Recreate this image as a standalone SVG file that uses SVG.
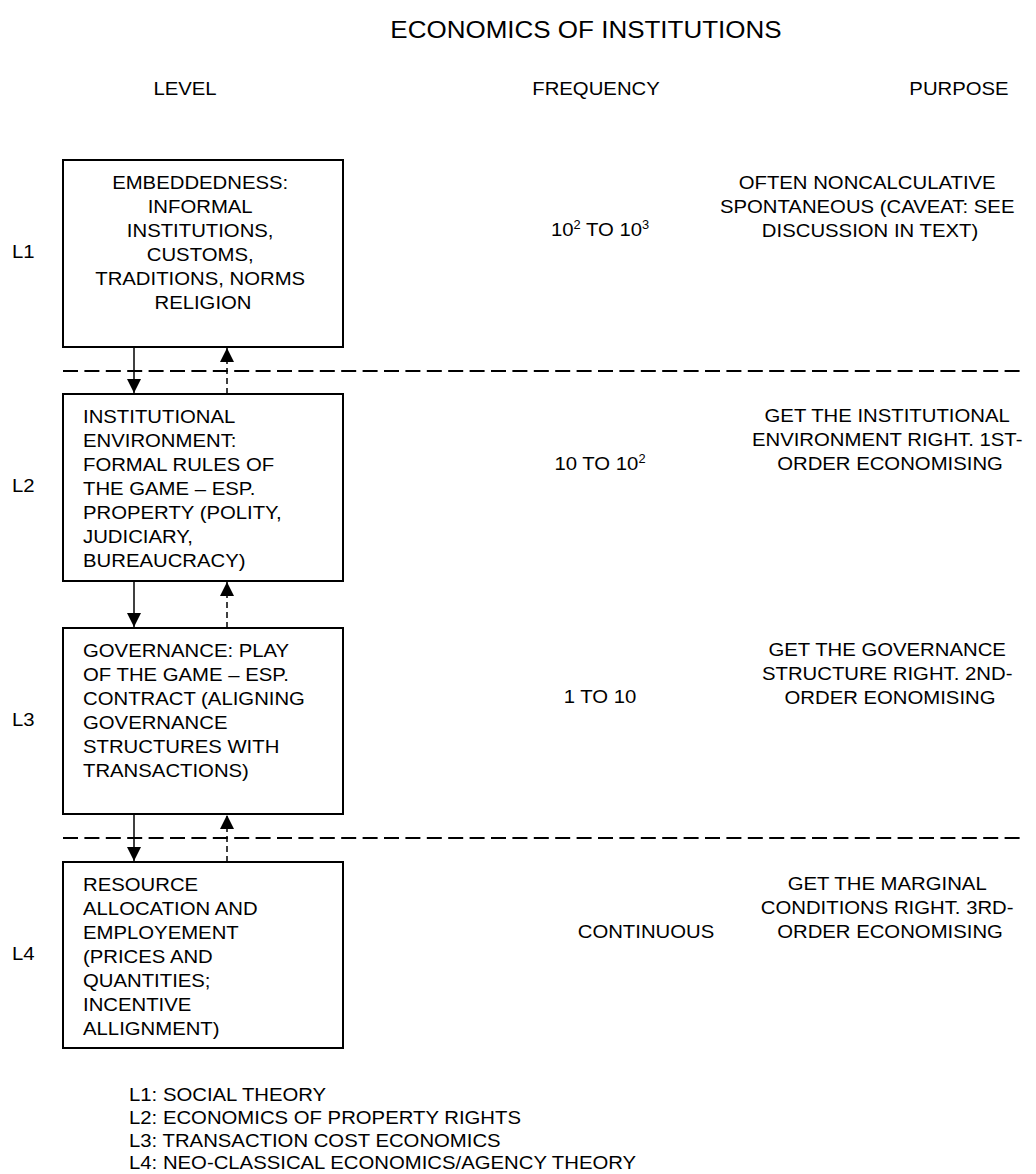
<svg xmlns="http://www.w3.org/2000/svg" width="1036" height="1174" viewBox="0 0 1036 1174">
  <style>
    .t { font-family: "Liberation Sans", Arial, Helvetica, sans-serif; font-size: 19px; fill: #000; }
    .title { font-size: 24.3px; }
    .mid { text-anchor: middle; }
    .sup { font-size: 12px; }
    .box { fill: #fff; stroke: #000; stroke-width: 2; }
    .sep { fill: none; stroke: #000; stroke-width: 2; stroke-dasharray: 15 6.4; }
    .down { fill: none; stroke: #000; stroke-width: 1.5; }
    .up { fill: none; stroke: #000; stroke-width: 1.5; stroke-dasharray: 6 4; }
  </style>
  <defs>
    <marker id="head" markerUnits="userSpaceOnUse" markerWidth="15" markerHeight="14" refX="14" refY="7" orient="auto">
      <path d="M0,0 L14,7 L0,14 z" fill="#000"/>
    </marker>
  </defs>

  <rect width="1036" height="1174" fill="#fff"/>

  <!-- headings -->
  <g id="headings">
    <text class="t title mid" transform="translate(586 38) scale(1.07 1)">ECONOMICS OF INSTITUTIONS</text>
    <text class="t mid" transform="translate(185 95) scale(1.07 1)">LEVEL</text>
    <text class="t mid" transform="translate(596 95) scale(1.07 1)">FREQUENCY</text>
    <text class="t mid" transform="translate(959 95) scale(1.07 1)">PURPOSE</text>
  </g>

  <!-- level separators -->
  <g id="separators">
    <line class="sep" x1="63" y1="371" x2="1020" y2="371"/>
    <line class="sep" x1="63" y1="838" x2="1020" y2="838"/>
  </g>

  <!-- connectors between levels -->
  <g id="connectors">
    <line class="down" x1="134" y1="347" x2="134" y2="393" marker-end="url(#head)"/>
    <line class="up" x1="227" y1="394" x2="227" y2="348" marker-end="url(#head)"/>
    <line class="down" x1="134" y1="581" x2="134" y2="627" marker-end="url(#head)"/>
    <line class="up" x1="227" y1="628" x2="227" y2="582" marker-end="url(#head)"/>
    <line class="down" x1="134" y1="814" x2="134" y2="861" marker-end="url(#head)"/>
    <line class="up" x1="227" y1="862" x2="227" y2="815" marker-end="url(#head)"/>
  </g>

  <!-- level 1 -->
  <g id="level1">
    <text class="t" transform="translate(12 258) scale(1.07 1)">L1</text>
    <rect class="box" x="63" y="160" width="280" height="187"/>
    <text class="t mid" transform="translate(203 189) scale(1.07 1)">
      <tspan x="0" dy="0">EMBEDDEDNESS:</tspan>
      <tspan x="0" dy="24">INFORMAL</tspan>
      <tspan x="0" dy="24">INSTITUTIONS,</tspan>
      <tspan x="0" dy="24">CUSTOMS,</tspan>
      <tspan x="0" dy="24">TRADITIONS, NORMS</tspan>
      <tspan x="0" dy="24">RELIGION</tspan>
    </text>
    <text class="t mid" transform="translate(600 236) scale(1.07 1)">10<tspan class="sup" dy="-7">2</tspan><tspan dy="7"> TO 10</tspan><tspan class="sup" dy="-7">3</tspan></text>
    <text class="t mid" transform="translate(870 189) scale(1.07 1)">
      <tspan x="0" dy="0">OFTEN NONCALCULATIVE</tspan>
      <tspan x="0" dy="24">SPONTANEOUS (CAVEAT: SEE</tspan>
      <tspan x="0" dy="24">DISCUSSION IN TEXT)</tspan>
    </text>
  </g>

  <!-- level 2 -->
  <g id="level2">
    <text class="t" transform="translate(12 492) scale(1.07 1)">L2</text>
    <rect class="box" x="63" y="394" width="280" height="187"/>
    <text class="t" transform="translate(83 423) scale(1.07 1)">
      <tspan x="0" dy="0">INSTITUTIONAL</tspan>
      <tspan x="0" dy="24">ENVIRONMENT:</tspan>
      <tspan x="0" dy="24">FORMAL RULES OF</tspan>
      <tspan x="0" dy="24">THE GAME – ESP.</tspan>
      <tspan x="0" dy="24">PROPERTY (POLITY,</tspan>
      <tspan x="0" dy="24">JUDICIARY,</tspan>
      <tspan x="0" dy="24">BUREAUCRACY)</tspan>
    </text>
    <text class="t mid" transform="translate(600 470) scale(1.07 1)">10 TO 10<tspan class="sup" dy="-7">2</tspan></text>
    <text class="t mid" transform="translate(890 422) scale(1.07 1)">
      <tspan x="0" dy="0">GET THE INSTITUTIONAL</tspan>
      <tspan x="0" dy="24">ENVIRONMENT RIGHT. 1ST-</tspan>
      <tspan x="0" dy="24">ORDER ECONOMISING</tspan>
    </text>
  </g>

  <!-- level 3 -->
  <g id="level3">
    <text class="t" transform="translate(12 726) scale(1.07 1)">L3</text>
    <rect class="box" x="63" y="628" width="280" height="186"/>
    <text class="t" transform="translate(83 657) scale(1.07 1)">
      <tspan x="0" dy="0">GOVERNANCE: PLAY</tspan>
      <tspan x="0" dy="24">OF THE GAME – ESP.</tspan>
      <tspan x="0" dy="24">CONTRACT (ALIGNING</tspan>
      <tspan x="0" dy="24">GOVERNANCE</tspan>
      <tspan x="0" dy="24">STRUCTURES WITH</tspan>
      <tspan x="0" dy="24">TRANSACTIONS)</tspan>
    </text>
    <text class="t mid" transform="translate(600 703) scale(1.07 1)">1 TO 10</text>
    <text class="t mid" transform="translate(890 656) scale(1.07 1)">
      <tspan x="0" dy="0">GET THE GOVERNANCE</tspan>
      <tspan x="0" dy="24">STRUCTURE RIGHT. 2ND-</tspan>
      <tspan x="0" dy="24">ORDER EONOMISING</tspan>
    </text>
  </g>

  <!-- level 4 -->
  <g id="level4">
    <text class="t" transform="translate(12 960) scale(1.07 1)">L4</text>
    <rect class="box" x="63" y="862" width="280" height="186"/>
    <text class="t" transform="translate(83 891) scale(1.07 1)">
      <tspan x="0" dy="0">RESOURCE</tspan>
      <tspan x="0" dy="24">ALLOCATION AND</tspan>
      <tspan x="0" dy="24">EMPLOYEMENT</tspan>
      <tspan x="0" dy="24">(PRICES AND</tspan>
      <tspan x="0" dy="24">QUANTITIES;</tspan>
      <tspan x="0" dy="24">INCENTIVE</tspan>
      <tspan x="0" dy="24">ALLIGNMENT)</tspan>
    </text>
    <text class="t mid" transform="translate(646 938) scale(1.07 1)">CONTINUOUS</text>
    <text class="t mid" transform="translate(890 890) scale(1.07 1)">
      <tspan x="0" dy="0">GET THE MARGINAL</tspan>
      <tspan x="0" dy="24">CONDITIONS RIGHT. 3RD-</tspan>
      <tspan x="0" dy="24">ORDER ECONOMISING</tspan>
    </text>
  </g>

  <!-- legend -->
  <g id="legend">
    <text class="t" transform="translate(129 1101) scale(1.07 1)">
      <tspan x="0" dy="0">L1: SOCIAL THEORY</tspan>
      <tspan x="0" dy="22.8">L2: ECONOMICS OF PROPERTY RIGHTS</tspan>
      <tspan x="0" dy="22.8">L3: TRANSACTION COST ECONOMICS</tspan>
      <tspan x="0" dy="22.8">L4: NEO-CLASSICAL ECONOMICS/AGENCY THEORY</tspan>
    </text>
  </g>
</svg>
